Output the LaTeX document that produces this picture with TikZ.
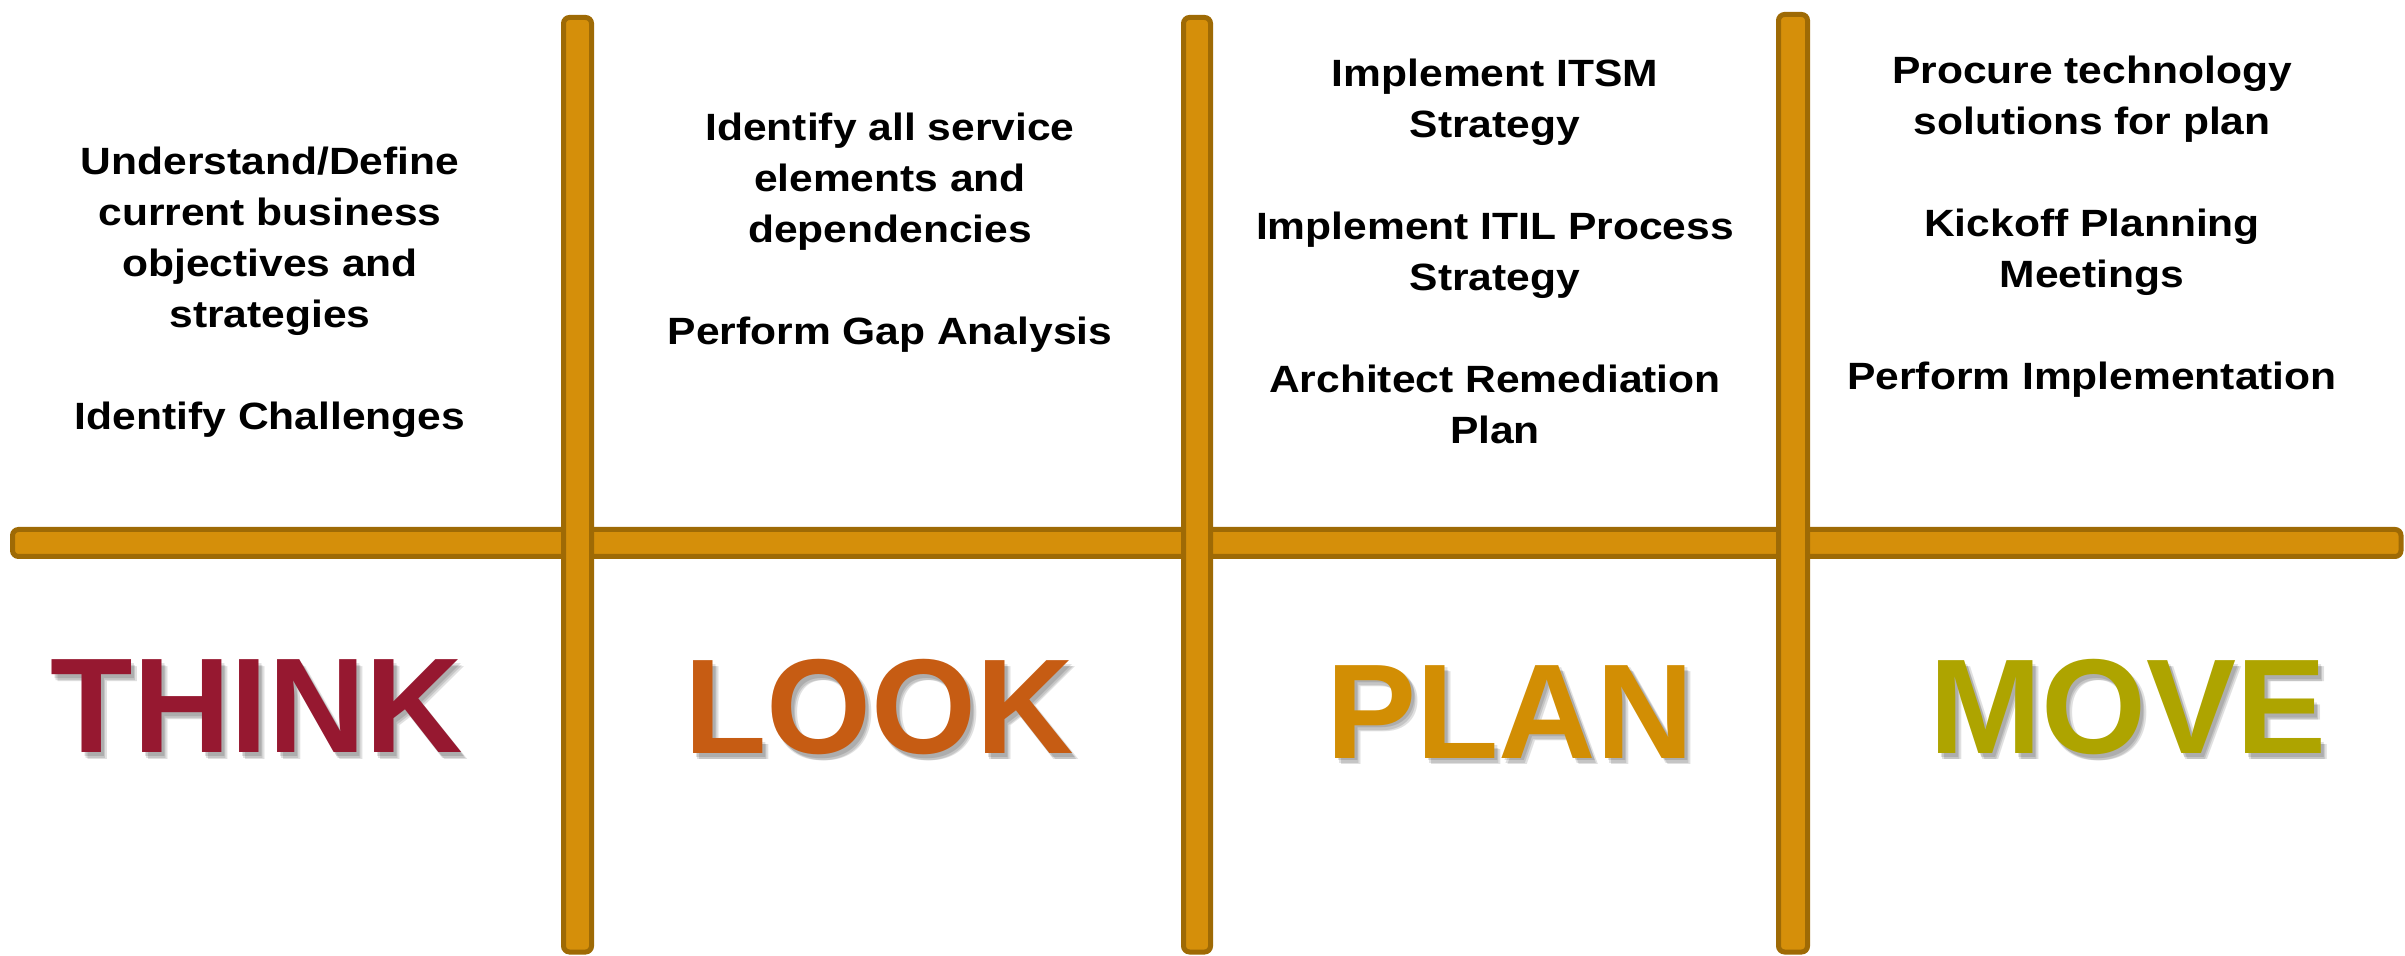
\documentclass[tikz,border=0pt]{standalone}
\usepackage{fontspec}
\setmainfont{Liberation Sans}
\newfontfamily\bodyfont[FakeStretch=1.12]{Liberation Sans}
\newfontfamily\bigfont{Liberation Sans}
\definecolor{barfill}{RGB}{213,143,10}
\definecolor{barline}{RGB}{158,106,5}
\definecolor{thinkc}{RGB}{150,24,48}
\definecolor{lookc}{RGB}{198,92,19}
\definecolor{planc}{RGB}{210,142,4}
\definecolor{movec}{RGB}{174,164,0}
\tikzset{
  bar/.style={fill=barfill, draw=barline, line width=2.5pt, rounded corners=3pt},
  txt/.style={anchor=base, inner sep=0pt, font=\bodyfont\bfseries\fontsize{19}{25.5}\selectfont, text=black},
  big/.style={anchor=base, inner sep=0pt, font=\bigfont\bfseries\fontsize{67.5}{80}\selectfont},
  shadowtxt/.style={big, text=black, opacity=0.12}
}
\begin{document}
\begin{tikzpicture}[x=0.5pt,y=-0.5pt]
\useasboundingbox (0,0) rectangle (2405,956);
% bars
\draw[bar] (12.5,529.5) rectangle (2401,556.5);
\draw[bar] (563.5,17.5) rectangle (591.5,952);
\draw[bar] (1183.5,17.5) rectangle (1210.5,952);
\draw[bar] (1778.5,14.5) rectangle (1807.5,952);
% column 1
\node[txt] (a1) at (270,175) {Understand/Define};
\node[txt] (a2) at (270,226) {current business};
\node[txt] (a3) at (270,277) {objectives and};
\node[txt] (a4) at (270,328) {strategies};
\node[txt] (a5) at (270,430) {Identify Challenges};
% column 2
\node[txt] (b1) at (890,141) {Identify all service};
\node[txt] (b2) at (890,192) {elements and};
\node[txt] (b3) at (890,243) {dependencies};
\node[txt] (b4) at (890,345) {Perform Gap Analysis};
% column 3
\node[txt] (c1) at (1495,87) {Implement ITSM};
\node[txt] (c2) at (1495,138) {Strategy};
\node[txt] (c3) at (1495,240) {Implement ITIL Process};
\node[txt] (c4) at (1495,291) {Strategy};
\node[txt] (c5) at (1495,393) {Architect Remediation};
\node[txt] (c6) at (1495,444) {Plan};
% column 4
\node[txt] (d1) at (2092,84) {Procure technology};
\node[txt] (d2) at (2092,135) {solutions for plan};
\node[txt] (d3) at (2092,237) {Kickoff Planning};
\node[txt] (d4) at (2092,288) {Meetings};
\node[txt] (d5) at (2092,390) {Perform Implementation};
% big words with soft shadow
\foreach \dx/\dy in {3/3,4/5,6/6}{
  \node[shadowtxt] at (257+\dx,753+\dy) {THINK};
  \node[shadowtxt] at (879+\dx,754+\dy) {LOOK};
  \node[shadowtxt] at (1510+\dx,758+\dy) {PLAN};
  \node[shadowtxt] at (2128+\dx,754+\dy) {MOVE};
}
\node[big, text=thinkc] (think) at (257,753) {THINK};
\node[big, text=lookc] (look) at (879,754) {LOOK};
\node[big, text=planc] (plan) at (1510,758) {PLAN};
\node[big, text=movec] (move) at (2128,754) {MOVE};
\end{tikzpicture}
\end{document}
